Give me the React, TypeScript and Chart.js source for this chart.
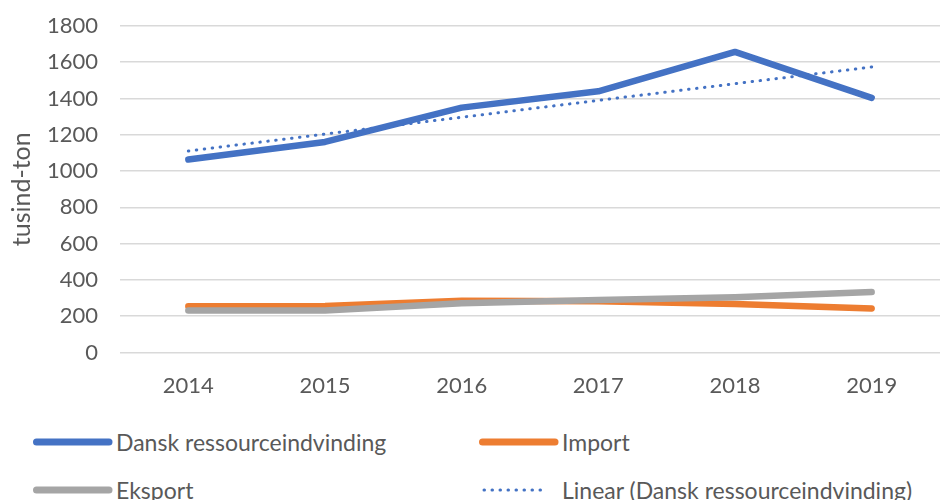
import React, { useEffect, useRef } from 'react';
import { Chart, registerables } from 'chart.js';

Chart.register(...registerables);

const years = ['2014', '2015', '2016', '2017', '2018', '2019'];
const danskValues = [1064, 1161, 1350, 1440, 1657, 1404];
const importValues = [255, 257, 285, 282, 268, 243];
const eksportValues = [232, 232, 272, 290, 305, 333];
const linearValues = [1111, 1204, 1297, 1390, 1482, 1574];
const yMin = 0;
const yMax = 1800;
const yStep = 200;
const yTitle = 'tusind-ton';

const seriesLabels = ['Dansk ressourceindvinding', 'Import', 'Eksport', 'Linear (Dansk ressourceindvinding)'];
const seriesColors = ['#4472C4', '#ED7D31', '#A5A5A5', '#4472C4'];

const FONT = "Lato, 'Open Sans', sans-serif";
const TEXT = '#595959';

export default function App() {
  const ref = useRef<HTMLCanvasElement | null>(null);

  useEffect(() => {
    if (!ref.current) return;
    const solid = (i: number, data: number[], order: number) => ({
      label: seriesLabels[i],
      data,
      borderColor: seriesColors[i],
      backgroundColor: seriesColors[i],
      borderWidth: 6.5,
      borderCapStyle: 'round' as const,
      borderJoinStyle: 'round' as const,
      pointRadius: 0,
      tension: 0,
      fill: false,
      order,
    });
    const chart = new Chart(ref.current, {
      type: 'line',
      data: {
        labels: years,
        datasets: [
          solid(0, danskValues, 3),
          solid(1, importValues, 2),
          solid(2, eksportValues, 1),
          {
            label: seriesLabels[3],
            data: linearValues,
            borderColor: seriesColors[3],
            borderWidth: 3,
            borderDash: [0.5, 7.5],
            borderCapStyle: 'round',
            pointRadius: 0,
            tension: 0,
            fill: false,
            order: 0,
          },
        ],
      },
      options: {
        animation: false,
        responsive: false,
        maintainAspectRatio: false,
        layout: { padding: { top: 26, right: 0, left: 0, bottom: 0 } },
        plugins: { legend: { display: false }, tooltip: { enabled: false } },
        scales: {
          x: {
            type: 'category',
            offset: true,
            grid: { display: false, drawTicks: false },
            border: { display: false },
            ticks: { color: TEXT, font: { family: FONT, size: 22 }, padding: 20, maxRotation: 0 },
            afterFit: (s: any) => {
              s.height = 410 - 352.5;
              s.paddingLeft = 0;
              s.paddingRight = 0;
            },
          },
          y: {
            min: yMin,
            max: yMax,
            ticks: {
              stepSize: yStep,
              color: TEXT,
              font: { family: FONT, size: 22 },
              padding: 22,
              callback: (v: any) => String(v),
            },
            grid: { color: '#D9D9D9', lineWidth: 1.6, drawTicks: false },
            border: { display: false },
            title: {
              display: true,
              text: yTitle,
              color: TEXT,
              font: { family: FONT, size: 25 },
              padding: { top: 7, bottom: 0 },
            },
            afterFit: (s: any) => {
              s.width = 120;
              s.paddingTop = 0;
              s.paddingBottom = 0;
            },
          },
        },
      },
    });
    return () => chart.destroy();
  }, []);

  const colText = [116, 562];
  const colSample = [33, 479];
  const rowY = [442, 490];

  return (
    <div style={{ position: 'fixed', left: 0, top: 0, width: 940, height: 500, background: '#fff', overflow: 'hidden' }}>
      <canvas ref={ref} width={940} height={410} style={{ position: 'absolute', left: 0, top: 0, width: 940, height: 410 }} />
      {seriesLabels.map((label, i) => {
        const col = i % 2;
        const row = Math.floor(i / 2);
        const dotted = i === 3;
        return (
          <React.Fragment key={label}>
            <svg
              width={80}
              height={12}
              style={{ position: 'absolute', left: colSample[col], top: rowY[row] - 6 }}
            >
              {dotted ? (
                <line x1={5} y1={6} x2={68} y2={6} stroke={seriesColors[i]} strokeWidth={3}
                  strokeDasharray="0.5 7.5" strokeLinecap="round" />
              ) : (
                <line x1={3.5} y1={6} x2={76} y2={6} stroke={seriesColors[i]} strokeWidth={7}
                  strokeLinecap="round" />
              )}
            </svg>
            <div
              style={{
                position: 'absolute',
                left: colText[col],
                top: rowY[row] - 15,
                height: 30,
                lineHeight: '30px',
                fontFamily: FONT,
                fontSize: 23,
                color: TEXT,
                whiteSpace: 'nowrap',
              }}
            >
              {label}
            </div>
          </React.Fragment>
        );
      })}
    </div>
  );
}
